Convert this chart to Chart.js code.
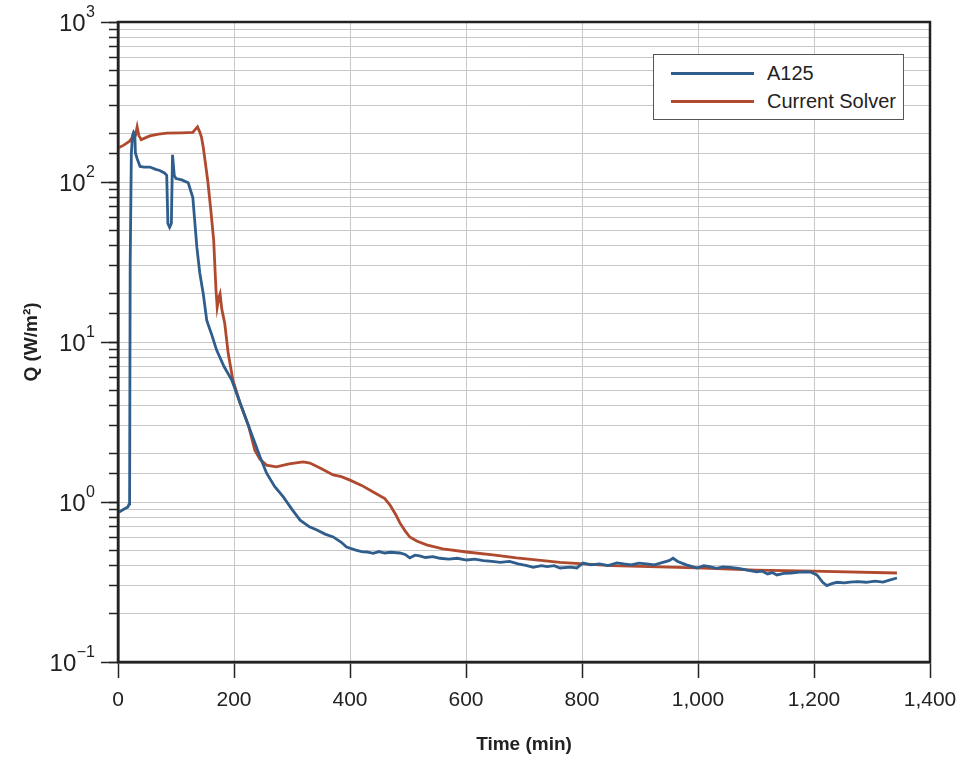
<!DOCTYPE html>
<html>
<head>
<meta charset="utf-8">
<script src="https://cdn.jsdelivr.net/npm/chart.js@4.4.1/dist/chart.umd.min.js"></script>
<style>
  body { margin:0; background:#fff; }
  #wrap { position:relative; width:959px; height:769px; }
  #legend {
    position:absolute; left:653px; top:54px; width:249px; height:64px;
    border:1.5px solid #555; background:#fff;
    font-family:'Liberation Sans', Arial, sans-serif; font-size:20px; color:#222;
  }
  .item { position:absolute; left:0; display:flex; align-items:center; }
  .swatch { width:83px; height:3px; margin-left:17px; margin-right:13px; }
</style>
</head>
<body>
<div id="wrap">
  <canvas id="chart" width="959" height="769"></canvas>
  <div id="legend"></div>
</div>
<script>
// A125 (measured)
const aTime = [0, 3, 10, 17, 19, 20, 21, 23, 25, 27, 29, 30, 33, 38, 45, 55, 65, 72, 80, 84,
  86, 89, 92, 94, 97, 100, 110, 121, 129, 136, 141, 147, 153, 155, 162, 170, 183, 196, 210, 225,
  245, 256, 270, 285, 300, 314, 330, 343, 357, 371, 385, 394, 410, 420, 429, 440, 450, 460, 470, 486,
  495, 503, 512, 520, 530, 543, 555, 570, 585, 601, 615, 630, 645, 659, 675, 690, 705, 716, 730, 740,
  752, 762, 780, 791, 802, 815, 830, 845, 860, 872, 885, 898, 911, 925, 935, 950, 957, 965, 980, 990,
  998, 1010, 1020, 1032, 1043, 1055, 1070, 1085, 1101, 1110, 1120, 1128, 1136, 1148, 1160, 1175, 1193, 1205, 1215, 1222,
  1232, 1240, 1252, 1262, 1275, 1290, 1305, 1319, 1330, 1343]
const aQ = [0.88, 0.87, 0.90, 0.93, 0.97, 1.0, 30, 150, 195, 205, 200, 152, 140, 125, 124, 124, 120, 118, 114, 110,
  55, 52, 55, 148, 110, 105, 103, 99, 80, 39, 27, 20, 13.7, 13, 11, 8.9, 7, 5.8, 4.2, 3.0,
  1.91, 1.52, 1.25, 1.075, 0.9, 0.77, 0.70, 0.668, 0.63, 0.605, 0.56, 0.523, 0.50, 0.49, 0.487, 0.478, 0.49, 0.48, 0.485, 0.48,
  0.47, 0.447, 0.465, 0.46, 0.45, 0.455, 0.445, 0.44, 0.445, 0.434, 0.44, 0.43, 0.425, 0.42, 0.425, 0.41, 0.40, 0.39, 0.40, 0.395,
  0.40, 0.387, 0.392, 0.387, 0.416, 0.405, 0.41, 0.40, 0.416, 0.41, 0.405, 0.415, 0.41, 0.405, 0.415, 0.43, 0.445, 0.425, 0.405, 0.395,
  0.387, 0.40, 0.395, 0.385, 0.393, 0.39, 0.385, 0.375, 0.366, 0.37, 0.355, 0.362, 0.35, 0.358, 0.36, 0.365, 0.366, 0.35, 0.315, 0.30,
  0.31, 0.315, 0.312, 0.316, 0.318, 0.315, 0.32, 0.316, 0.325, 0.335]

// Current Solver
const sTime = [0, 10, 20, 24, 30, 33, 36, 40, 55, 70, 84, 110, 129, 134, 137, 141, 144, 147, 150, 155,
  160, 165, 168, 169, 171, 174, 176, 179, 184, 190, 198, 210, 225, 236, 245, 256, 273, 295, 319, 331,
  350, 371, 385, 400, 420, 440, 460, 469, 480, 486, 495, 503, 515, 532, 560, 601, 650, 687, 762, 850,
  998, 1100, 1198, 1343]
const sQ = [163, 170, 180, 188, 195, 221, 195, 184, 194, 199, 202, 203, 204, 215, 221, 205, 190, 165, 137, 100,
  67, 43, 25, 21, 16.5, 19, 20, 16, 13.1, 8.5, 5.8, 4.2, 3.0, 2.1, 1.85, 1.70, 1.66, 1.73, 1.78, 1.75,
  1.62, 1.475, 1.44, 1.37, 1.27, 1.155, 1.05, 0.957, 0.82, 0.74, 0.66, 0.604, 0.57, 0.54, 0.51, 0.487, 0.465, 0.447, 0.42, 0.40,
  0.387, 0.375, 0.37, 0.36]

const xTicks = [0, 200, 400, 600, 800, 1000, 1200, 1400]
const yDecades = [-1, 0, 1, 2, 3]

const seriesNames = ['A125', 'Current Solver']
const seriesColors = ['#2f5d8c', '#b04a2f']

const toPoints = (xs, ys) => xs.map((x, i) => ({ x: x, y: ys[i] }))

const FONT = "'Liberation Sans', Arial, sans-serif"

// frame, long major ticks and 10^n labels on y
const frame = {
  id: 'frame',
  afterDraw(chart) {
    const { ctx, chartArea: a } = chart
    const y = chart.scales.y
    ctx.save()
    ctx.strokeStyle = '#222'
    ctx.lineWidth = 2.5
    ctx.strokeRect(a.left, a.top, a.right - a.left, a.bottom - a.top)
    ctx.lineWidth = 1.5
    ctx.fillStyle = '#222'
    ctx.textBaseline = 'middle'
    yDecades.forEach(e => {
      const py = Math.round(y.getPixelForValue(Math.pow(10, e))) + 0.5
      ctx.beginPath()
      ctx.moveTo(a.left, py)
      ctx.lineTo(a.left - 17, py)
      ctx.stroke()
      const sup = e < 0 ? '\u2212' + (-e) : String(e)
      ctx.font = '16px ' + FONT
      const w = ctx.measureText(sup).width
      ctx.textAlign = 'left'
      ctx.fillText(sup, 95 - w, py - 10)
      ctx.font = '24px ' + FONT
      ctx.textAlign = 'right'
      ctx.fillText('10', 95 - w - 0.5, py + 2)
    })
    ctx.restore()
  }
}

const chart = new Chart(document.getElementById('chart'), {
  type: 'line',
  data: {
    datasets: [
      { label: seriesNames[0], data: toPoints(aTime, aQ), borderColor: seriesColors[0], borderWidth: 2.8, pointRadius: 0, tension: 0 },
      { label: seriesNames[1], data: toPoints(sTime, sQ), borderColor: seriesColors[1], borderWidth: 2.8, pointRadius: 0, tension: 0 }
    ]
  },
  options: {
    responsive: false,
    animation: false,
    layout: { padding: { top: 22, right: 29, left: 0, bottom: 0 } },
    plugins: { legend: { display: false }, tooltip: { enabled: false } },
    scales: {
      x: {
        type: 'linear', min: 0, max: 1400,
        afterFit: s => { s.height = 107; s.paddingLeft = 0; s.paddingRight = 0 },
        afterBuildTicks: s => { s.ticks = xTicks.map(v => ({ value: v })) },
        ticks: { autoSkip: false, maxRotation: 0, padding: 10, color: '#222',
          font: { family: FONT, size: 21 },
          callback: v => v.toLocaleString('en-US') },
        grid: { color: '#c8c8c8', lineWidth: 1, tickLength: 16, tickColor: '#222', tickWidth: 1.5 },
        border: { display: true, color: '#222', width: 2.5 },
        title: { display: true, text: 'Time (min)', color: '#222',
          font: { family: FONT, size: 19, weight: 'bold' }, padding: { top: 0, bottom: 13 } }
      },
      y: {
        type: 'logarithmic', min: 0.1, max: 1000,
        afterFit: s => { s.width = 118; s.paddingTop = 0; s.paddingBottom = 0 },
        ticks: { display: false },
        grid: { color: '#c8c8c8', lineWidth: 1, tickLength: 9, tickColor: '#222', tickWidth: 1.5 },
        border: { display: true, color: '#222', width: 2.5 },
        title: { display: true, text: 'Q (W/m²)', color: '#222',
          font: { family: FONT, size: 19, weight: 'bold' }, padding: { top: 20, bottom: 0 } }
      }
    }
  },
  plugins: [frame]
})

// legend
const legend = document.getElementById('legend')
chart.data.datasets.forEach((ds, i) => {
  const row = document.createElement('div')
  row.className = 'item'
  row.style.top = (i === 0 ? 7 : 35) + 'px'
  row.innerHTML = '<span class="swatch" style="background:' + ds.borderColor + '"></span><span>' + ds.label + '</span>'
  legend.appendChild(row)
})
</script>
</body>
</html>
